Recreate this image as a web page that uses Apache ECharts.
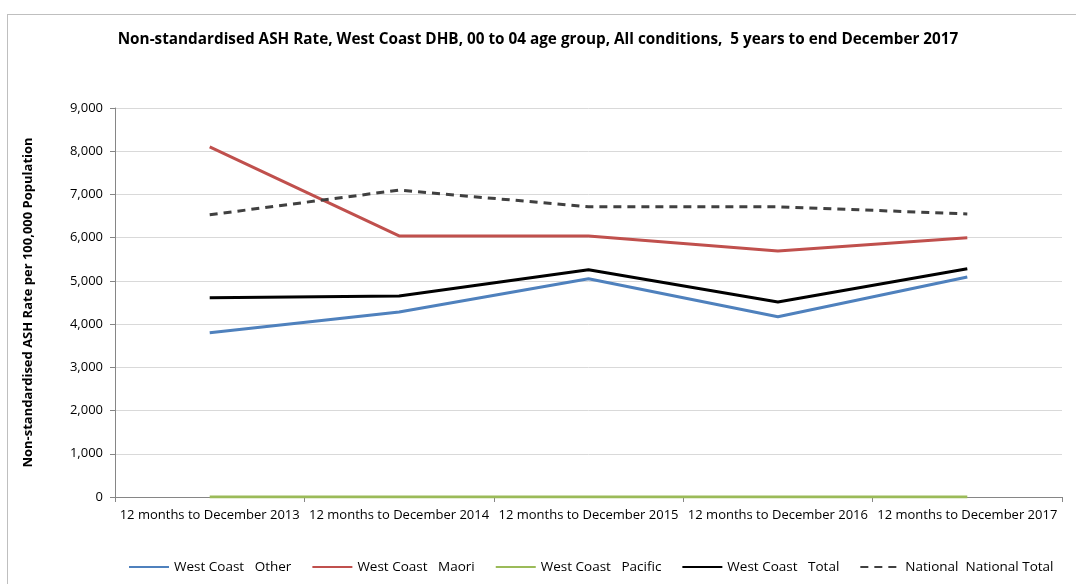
<!DOCTYPE html>
<html><head><meta charset="utf-8">
<script src="https://cdn.jsdelivr.net/npm/echarts@6/dist/echarts.min.js"></script>
<style>
html,body{margin:0;padding:0;background:#fff;}
#frame{position:absolute;left:7px;top:14px;width:1075px;height:580px;border:1px solid #bfbfbf;box-sizing:border-box;}
#c{position:absolute;left:0;top:0;width:1076px;height:584px;}
</style></head>
<body><div id="frame"></div><div id="c"></div>
<script>
const categories = ["12 months to December 2013","12 months to December 2014","12 months to December 2015","12 months to December 2016","12 months to December 2017"];
const other = [3800, 4280, 5050, 4170, 5090];
const maori = [8100, 6040, 6040, 5690, 6000];
const pacific = [0, 0, 0, 0, 0];
const total = [4610, 4650, 5260, 4510, 5280];
const national = [6530, 7100, 6715, 6715, 6550];
const FONT = "'Open Sans',sans-serif";
const chart = echarts.init(document.getElementById('c'));
const mk = (name, data, color, dashed) => ({
  name, type: 'line', data, symbol: 'none', showSymbol: false,
  lineStyle: {color, width: 3, type: dashed ? [8,6] : 'solid'},
  itemStyle: {color}
});
chart.setOption({
  animation: false,
  title: {text: 'Non-standardised ASH Rate, West Coast DHB, 00 to 04 age group, All conditions,  5 years to end December 2017',
    left: 'center', top: 27, textStyle: {fontFamily: FONT, fontSize: 15.3, fontWeight: 'bold', color: '#000'}},
  grid: {left: 115, right: 14, top: 108, bottom: 87},
  xAxis: {type: 'category', data: categories, boundaryGap: true,
    axisLine: {lineStyle: {color: '#868686'}}, axisTick: {show: true, lineStyle: {color: '#868686'}},
    axisLabel: {fontFamily: FONT, fontSize: 13, color: '#000', interval: 0, margin: 12}},
  yAxis: {type: 'value', min: 0, max: 9000, interval: 1000,
    name: 'Non-standardised ASH Rate per 100,000 Population', nameLocation: 'middle', nameGap: 80,
    nameTextStyle: {fontFamily: FONT, fontSize: 13, fontWeight: 'bold', color: '#000'},
    axisLine: {show: true, lineStyle: {color: '#868686'}}, axisTick: {show: true, lineStyle: {color: '#868686'}},
    splitLine: {lineStyle: {color: '#d9d9d9'}},
    axisLabel: {fontFamily: FONT, fontSize: 13, color: '#000', formatter: v => v.toLocaleString('en-US'), margin: 12}},
  legend: {bottom: 5, left: 123, itemWidth: 40, itemHeight: 10, itemGap: 20,
    itemStyle: {opacity: 0},
    textStyle: {fontFamily: FONT, fontSize: 13.5, color: '#000'},
    data: ['West Coast   Other','West Coast   Maori','West Coast   Pacific','West Coast   Total','National  National Total']},
  series: [
    mk('West Coast   Other', other, '#4f81bd'),
    mk('West Coast   Maori', maori, '#c0504d'),
    mk('West Coast   Pacific', pacific, '#9bbb59'),
    mk('West Coast   Total', total, '#000000'),
    mk('National  National Total', national, '#404040', true)
  ]
});
</script></body></html>
